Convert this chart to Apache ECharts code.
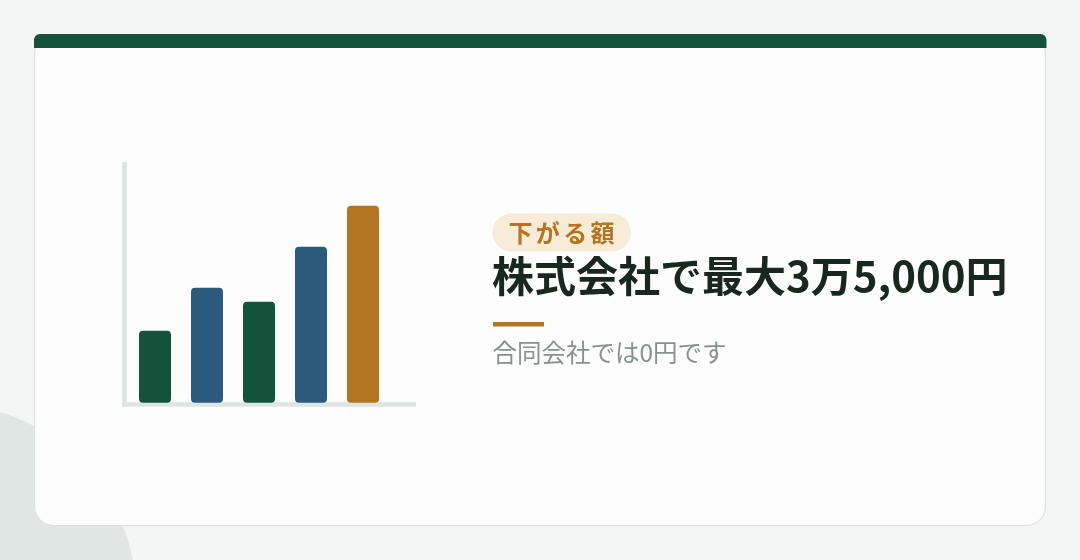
<!DOCTYPE html>
<html>
<head>
<meta charset="utf-8">
<style>
  html, body { margin: 0; padding: 0; background: #f4f6f5; }
  #chart { width: 1080px; height: 560px; }
</style>
<script src="https://cdn.jsdelivr.net/npm/echarts@6/dist/echarts.min.js"></script>
</head>
<body>
<div id="chart"></div>
<script>
// ---- data ----
var categories = ['1', '2', '3', '4', '5'];
var barValues = [36, 57.5, 50.5, 78, 98.5];
var barColors = ['#13523b', '#2c5a7d', '#13523b', '#2c5a7d', '#b37521'];
var tagText = '下がる額';
var titleText = '株式会社で最大3万5,000円';
var subText = '合同会社では0円です';

var FONT = '"Noto Sans CJK JP", "Noto Sans", sans-serif';

var chart = echarts.init(document.getElementById('chart'), null, { renderer: 'canvas' });

// tag characters laid out with a little letter spacing
var tagChars = tagText.split('');
var tagFont = 24, tagGap = 3.4;
var tagTotal = tagChars.length * tagFont + (tagChars.length - 1) * tagGap;
var tagStartX = 561.5 - tagTotal / 2;
var tagElems = tagChars.map(function (ch, i) {
  return {
    type: 'text', x: tagStartX + i * (tagFont + tagGap) + tagFont / 2, y: 232.5,
    style: { text: ch, fill: '#b7741f', font: 'bold ' + tagFont + 'px ' + FONT,
             align: 'center', verticalAlign: 'middle' }
  };
});

var option = {
  animation: false,
  backgroundColor: '#f4f6f5',
  grid: [
    { left: 129, top: 162.7, width: 260, height: 240, containLabel: false },
    { left: 124.4, top: 164.3, width: 289.4, height: 240.2, containLabel: false }
  ],
  xAxis: [
    {
      gridIndex: 0, type: 'category', data: categories,
      axisLine: { show: false }, axisTick: { show: false }, axisLabel: { show: false },
      splitLine: { show: false }
    },
    {
      gridIndex: 1, type: 'value', min: 0, max: 1,
      axisLine: { show: true, lineStyle: { color: '#dde5e3', width: 4.6, cap: 'square' } },
      axisTick: { show: false }, axisLabel: { show: false }, splitLine: { show: false }, z: 3
    }
  ],
  yAxis: [
    {
      gridIndex: 0, type: 'value', min: 0, max: 120,
      axisLine: { show: false }, axisTick: { show: false }, axisLabel: { show: false },
      splitLine: { show: false }
    },
    {
      gridIndex: 1, type: 'value', min: 0, max: 1,
      axisLine: { show: true, onZero: false, lineStyle: { color: '#dde5e3', width: 4.6, cap: 'square' } },
      axisTick: { show: false }, axisLabel: { show: false }, splitLine: { show: false }, z: 3
    }
  ],
  series: [
    {
      type: 'bar',
      xAxisIndex: 0, yAxisIndex: 0,
      barWidth: 32,
      z: 5,
      data: barValues.map(function (v, i) {
        return { value: v, itemStyle: { color: barColors[i], borderRadius: 4 } };
      })
    }
  ],
  graphic: [
    {
      type: 'group', z: -10, silent: true,
      children: [
        { type: 'rect', shape: { x: 0, y: 0, width: 1080, height: 560 }, style: { fill: '#f4f6f5' } },
        { type: 'circle', shape: { cx: -55, cy: 595, r: 191 }, style: { fill: '#dfe6e4' } },
        { type: 'rect', shape: { x: 34.5, y: 34.5, width: 1011, height: 491, r: 19 },
          style: { fill: '#fcfdfc', stroke: '#dbe3e1', lineWidth: 1.2 } },
        { type: 'rect', shape: { x: 34, y: 34, width: 1012.5, height: 14, r: [6, 6, 0, 0] },
          style: { fill: '#13523b' } }
      ]
    },
    {
      type: 'group', z: 10, silent: true,
      children: [
        { type: 'rect', shape: { x: 492.5, y: 213.5, width: 138.5, height: 38, r: 19 },
          style: { fill: '#f8ebd8' } }
      ].concat(tagElems).concat([
        { type: 'text', x: 492, y: 276,
          style: { text: titleText, fill: '#19281f', font: 'bold 42px ' + FONT,
                   align: 'left', verticalAlign: 'middle' } },
        { type: 'rect', shape: { x: 493, y: 322, width: 51, height: 4.5 },
          style: { fill: '#b7741f' } },
        { type: 'text', x: 492.5, y: 353,
          style: { text: subText, fill: '#87918e', font: 'normal 24.5px ' + FONT,
                   align: 'left', verticalAlign: 'middle' } }
      ])
    }
  ]
};

chart.setOption(option);
</script>
</body>
</html>
